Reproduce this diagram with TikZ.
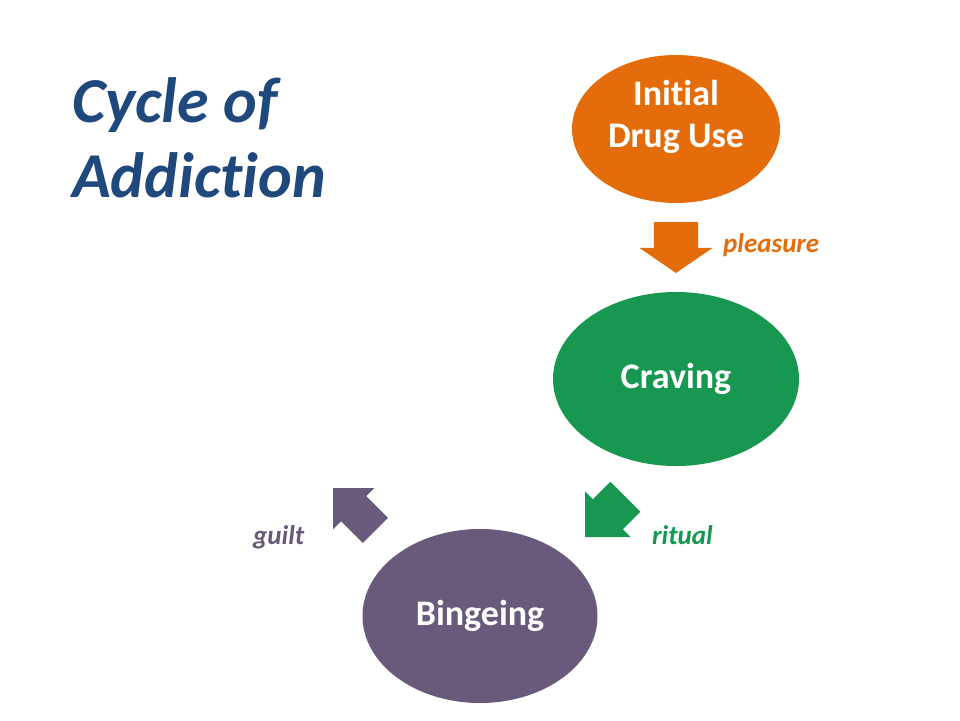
\documentclass[tikz,border=0pt]{standalone}
\usepackage{fontspec}
\setmainfont{Carlito}[Ligatures=NoCommon]
\usepackage{tikz}
\usetikzlibrary{shapes,positioning}
\definecolor{titleblue}{HTML}{1F497D}
\definecolor{useorange}{HTML}{E46C0A}
\definecolor{cravegreen}{HTML}{17974F}
\definecolor{bingepurple}{HTML}{685A7B}

\begin{document}
\begin{tikzpicture}[x=1pt, y=-1pt]
\tikzstyle{main}=[ellipse, inner sep=0pt, text=white, font=\fontsize{36}{42}\selectfont\bfseries, align=center]
\tikzstyle{blockarrow}=[single arrow, draw=none, anchor=tip, inner xsep=0pt, outer sep=0pt, single arrow tip angle=90]
\tikzstyle{cue}=[anchor=base west, inner sep=0pt, font=\fontsize{27}{32}\selectfont\bfseries\itshape]
\tikzstyle{heading}=[anchor=base west, inner sep=0pt, align=left, text=titleblue, font=\fontsize{64}{75}\selectfont\bfseries\itshape]

  \useasboundingbox[fill=white] (0,0) rectangle (960,720);

  % title
  \node[heading] (title) at (72,197) {Cycle of\\Addiction};

  % stages
  \node[main, fill=useorange, minimum width=208pt, minimum height=148pt, text depth=31pt] (init) at (676,129) {Initial\\Drug Use};
  \node[main, fill=cravegreen, minimum width=246pt, minimum height=174pt] (craving) [below of=init, node distance=250pt] {Craving};
  \node[main, fill=bingepurple, minimum width=235pt, minimum height=174pt] (bingeing) at (480,616) {Bingeing};

  % block arrows (placed by their tips)
  \node[blockarrow, fill=useorange, rotate=-90, minimum height=51pt, inner ysep=22pt, single arrow head extend=14.5pt, single arrow tip angle=111] (initarrow) at (676,273) {};
  \node[blockarrow, fill=cravegreen, rotate=-135, minimum height=57pt, inner ysep=21pt, single arrow head extend=11pt] (cravearrow) at (585,537) {};
  \node[blockarrow, fill=bingepurple, rotate=135, minimum height=60pt, inner ysep=17.5pt, single arrow head extend=11.5pt] (bingearrow) at (333,488) {};

  % labels
  \node[cue, text=useorange] (pleasure) at (723,252) {pleasure};
  \node[cue, text=cravegreen] (ritual) at (652,544) {ritual};
  \node[cue, text=bingepurple] (guilt) at (253,544) {guilt};

\end{tikzpicture}
\end{document}
